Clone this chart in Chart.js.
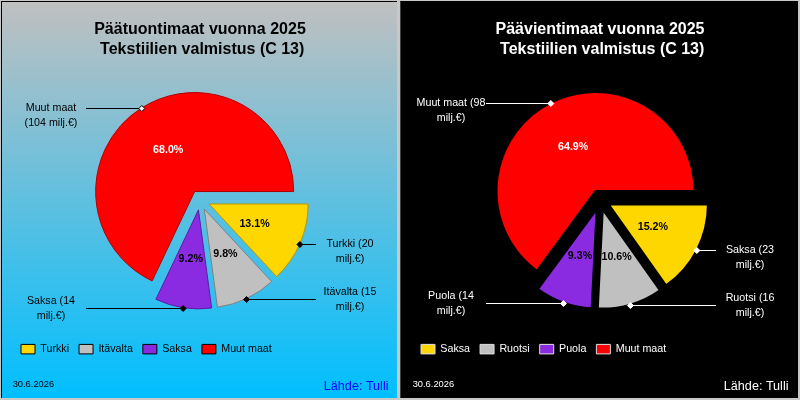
<!DOCTYPE html>
<html>
<head>
<meta charset="utf-8">
<script src="https://cdn.jsdelivr.net/npm/chart.js@4.4.1/dist/chart.umd.min.js"></script>
<style>
  body { margin: 0; width: 800px; height: 400px; background: #c8c8c8; position: relative; overflow: hidden; }
  .panel { position: absolute; top: 1px; height: 397px; box-sizing: border-box; border-top: 1px solid #000; }
  #left { left: 1px; width: 396px; border-left: 1px solid #000; background: linear-gradient(#c0c0c0, #00bfff); }
  #right { left: 400px; width: 398px; border-left: 1px solid #404040; background: #000; }
  canvas { position: absolute; top: 0; }
</style>
</head>
<body>
<div class="panel" id="left"></div>
<div class="panel" id="right"></div>
<canvas id="tuonti" width="400" height="400" style="left:0px"></canvas>
<canvas id="vienti" width="400" height="400" style="left:400px"></canvas>
<script>
// tuonti (vasen kuva)
const tuontiMaat = ["Turkki", "Itävalta", "Saksa", "Muut maat"];
const tuontiOsuus = [13.1, 9.8, 9.2, 68.0];
const tuontiMilj = [20, 15, 14, 104];

// vienti (oikea kuva)
const vientiMaat = ["Saksa", "Ruotsi", "Puola", "Muut maat"];
const vientiOsuus = [15.2, 10.6, 9.3, 64.9];
const vientiMilj = [23, 16, 14, 98];

const sliceColors = ["#FFD700", "#C0C0C0", "#8A2BE2", "#FF0000"];
const pvm = "30.6.2026";
const lahde = "Lähde: Tulli";

const FONT = "'Liberation Sans', Arial, sans-serif";
const EXPLODE = 10; // every slice is pulled out this many px
Chart.defaults.font.family = FONT;

function wrapText(ctx, text, maxW) {
  var words = text.split(" ");
  var lines = [];
  var line = "";
  for (var i = 0; i < words.length; i++) {
    var test = line ? line + " " + words[i] : words[i];
    if (line && ctx.measureText(test).width > maxW) {
      lines.push(line);
      line = words[i];
    } else {
      line = test;
    }
  }
  lines.push(line);
  return lines;
}

// exploded slices, percent labels, leader lines and the footer texts
function labelPlugin(st) {
  return {
    id: "pieLabels",
    beforeDatasetDraw(chart, args) {
      // chart.js offset option only moves slices by offset/4 and grows big ones,
      // so move the arcs here instead
      var ctx = chart.ctx;
      args.meta.data.forEach(function (arc) {
        var mid = (arc.startAngle + arc.endAngle) / 2;
        ctx.save();
        ctx.translate(Math.cos(mid) * EXPLODE, Math.sin(mid) * EXPLODE);
        arc.draw(ctx, chart.chartArea);
        ctx.restore();
      });
      return false;
    },
    afterDatasetsDraw(chart) {
      var ctx = chart.ctx;
      var ds = chart.data.datasets[0];
      var arcs = chart.getDatasetMeta(0).data;
      ctx.save();
      arcs.forEach(function (arc, i) {
        var mid = (arc.startAngle + arc.endAngle) / 2;
        var r = arc.outerRadius;
        var dx = Math.cos(mid), dy = Math.sin(mid);

        ctx.font = "bold 10.7px " + FONT;
        ctx.textAlign = "center";
        ctx.textBaseline = "middle";
        ctx.fillStyle = i == 3 ? "#ffffff" : "#000000";
        ctx.fillText(ds.data[i].toFixed(1) + "%", arc.x + dx * (EXPLODE + r * 0.5), arc.y + dy * (EXPLODE + r * 0.5));

        var ax = arc.x + dx * (EXPLODE + r);
        var ay = arc.y + dy * (EXPLODE + r);
        var left = dx < 0;
        var lineX = left ? 86 : 316;
        var textX = left ? 51 : 350;
        var ly = Math.round(ay) + 0.5;

        ctx.strokeStyle = st.line;
        ctx.lineWidth = 1;
        ctx.beginPath();
        ctx.moveTo(lineX, ly);
        ctx.lineTo(ax, ly);
        ctx.stroke();

        // small diamond marker on the slice edge
        ctx.beginPath();
        ctx.moveTo(ax, ly - 3);
        ctx.lineTo(ax + 3, ly);
        ctx.lineTo(ax, ly + 3);
        ctx.lineTo(ax - 3, ly);
        ctx.closePath();
        ctx.fillStyle = i == 3 ? st.markerBig : st.marker;
        ctx.fill();
        ctx.strokeStyle = st.markerEdge;
        ctx.stroke();

        ctx.font = "10.7px " + FONT;
        ctx.fillStyle = st.text;
        var lines = wrapText(ctx, chart.data.labels[i] + " (" + ds.milj[i] + " milj.€)", 72);
        var y0 = dy > 0.8 ? ly - (lines.length - 1) * 14.5 / 2 : ly;
        lines.forEach(function (t, k) {
          ctx.fillText(t, textX, y0 + k * 14.5);
        });
      });

      ctx.textAlign = "left";
      ctx.font = "9.3px " + FONT;
      ctx.fillStyle = st.text;
      ctx.fillText(pvm, 12.7, 384.5);

      ctx.textAlign = "right";
      ctx.font = "12.6px " + FONT;
      ctx.fillStyle = st.source;
      ctx.fillText(lahde, 388.5, 387);
      ctx.restore();
    }
  };
}

function makeChart(id, maat, osuus, milj, otsikko, st) {
  return new Chart(document.getElementById(id), {
    type: "pie",
    data: {
      labels: maat,
      datasets: [{
        data: osuus,
        milj: milj,
        backgroundColor: sliceColors,
        borderColor: st.borders,
        borderWidth: st.borderWidth,
        offset: 0
      }]
    },
    options: {
      responsive: false,
      animation: false,
      events: [],
      rotation: 90,
      radius: 99,
      layout: { padding: { left: 11, right: 11, top: 0, bottom: 35.5 } },
      plugins: {
        title: {
          display: true,
          text: otsikko,
          color: st.title,
          font: { size: 16, weight: "bold", lineHeight: 1.2 },
          padding: { top: 20.4, bottom: 7.4 }
        },
        legend: {
          position: "bottom",
          align: "start",
          labels: {
            boxWidth: 14,
            boxHeight: 9.5,
            padding: 10,
            color: st.text,
            font: { size: 10.7 },
            generateLabels: function (chart) {
              var items = Chart.overrides.doughnut.plugins.legend.labels.generateLabels(chart);
              items.forEach(function (it) {
                it.strokeStyle = st.legendEdge;
                it.lineWidth = 1;
              });
              return items;
            }
          }
        },
        tooltip: { enabled: false }
      }
    },
    plugins: [labelPlugin(st)]
  });
}

makeChart("tuonti", tuontiMaat, tuontiOsuus, tuontiMilj,
  ["Päätuontimaat vuonna 2025", " Tekstiilien valmistus (C 13)"], {
    borders: ["#B89800", "#808080", "#5E1A9E", "#B00000"],
    borderWidth: 1,
    title: "#000000",
    text: "#000000",
    line: "#000000",
    marker: "#000000",
    markerBig: "#ffffff",
    markerEdge: "#000000",
    legendEdge: "#000000",
    source: "#0000FF"
  });

makeChart("vienti", vientiMaat, vientiOsuus, vientiMilj,
  ["Päävientimaat vuonna 2025", " Tekstiilien valmistus (C 13)"], {
    borders: ["#000000", "#000000", "#000000", "#000000"],
    borderWidth: 2,
    title: "#ffffff",
    text: "#ffffff",
    line: "#ffffff",
    marker: "#ffffff",
    markerBig: "#ffffff",
    markerEdge: "#ffffff",
    legendEdge: "#e0e0e0",
    source: "#ffffff"
  });
</script>
</body>
</html>
